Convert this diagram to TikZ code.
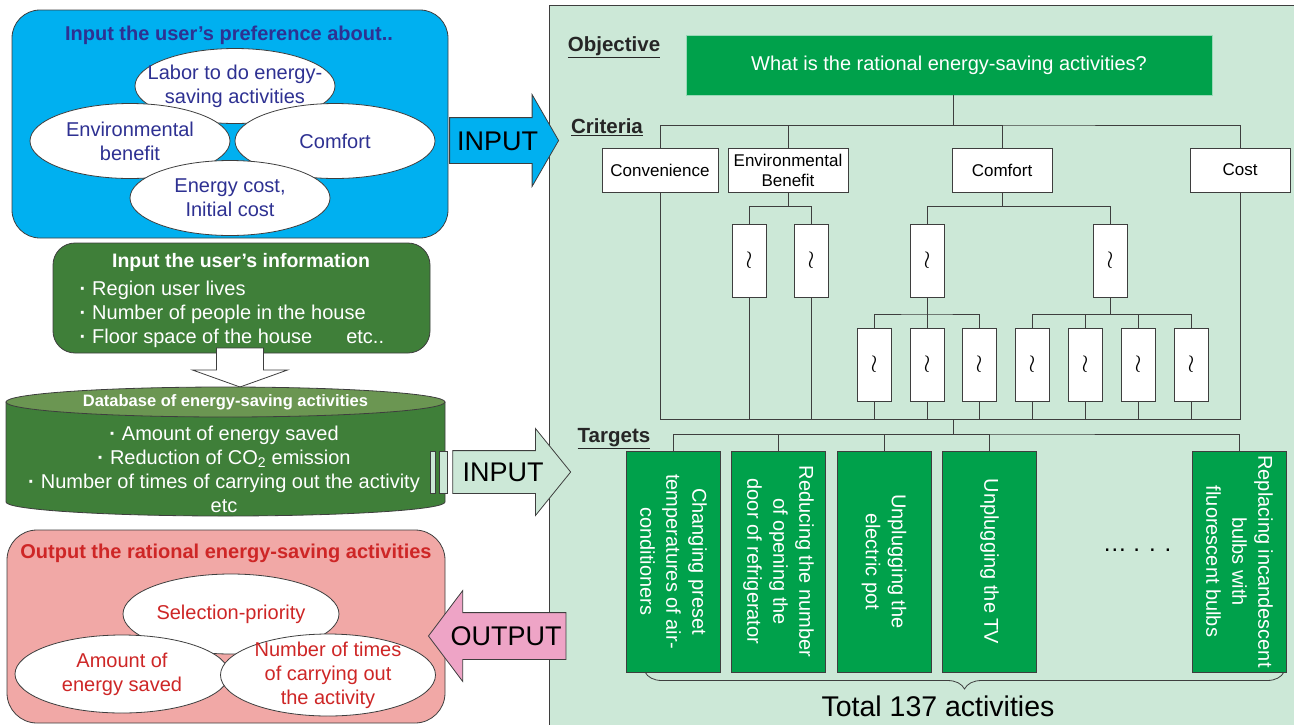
\documentclass[tikz,border=0pt]{standalone}
\usepackage{fontspec}
\setmainfont{Liberation Sans}
\usetikzlibrary{shapes.geometric, shapes.arrows, decorations.pathreplacing}

\definecolor{prefblue}{RGB}{0,176,240}
\definecolor{preftext}{RGB}{46,49,146}
\definecolor{infogreen}{RGB}{63,127,57}
\definecolor{dbtop}{RGB}{107,150,82}
\definecolor{outpink}{RGB}{241,168,166}
\definecolor{outtext}{RGB}{206,38,38}
\definecolor{panelgreen}{RGB}{204,232,215}
\definecolor{ahpgreen}{RGB}{0,161,75}
\definecolor{arrowpink}{RGB}{238,164,198}
\definecolor{edge}{RGB}{62,62,62}

\newcommand{\pxfont}[2]{\fontsize{#1}{#2}\selectfont}

\tikzset{
    prefbox/.style={
        rectangle, rounded corners=28, draw=edge, line width=0.8pt,
        fill=prefblue, minimum width=436, minimum height=228
    },
    infobox/.style={
        rectangle, rounded corners=22, draw=edge, line width=0.8pt,
        fill=infogreen, minimum width=377, minimum height=110
    },
    outbox/.style={
        rectangle, rounded corners=30, draw=edge, line width=0.8pt,
        fill=outpink, minimum width=438, minimum height=193
    },
    oval/.style={
        ellipse, draw=edge, line width=0.8pt, fill=white, inner sep=0,
        minimum width=200, minimum height=75
    },
    ovaltext/.style={align=center, font=\pxfont{20}{24}},
    boxtitle/.style={font=\pxfont{20}{24}\bfseries},
    bigarrow/.style={
        single arrow, draw=edge, line width=0.8pt,
        font=\pxfont{27}{32}, text height=19, text depth=0, inner xsep=4
    },
    hollow/.style={draw=edge, line width=0.8pt, fill=white},
    bar/.style={draw=edge, line width=0.8pt, fill=panelgreen},
    panel/.style={draw=edge, line width=0.8pt, fill=panelgreen},
    section/.style={font=\pxfont{20.5}{24}\bfseries, text=black!85},
    goal/.style={
        rectangle, draw=white!60!ahpgreen, line width=0.8pt, fill=ahpgreen,
        minimum width=526, minimum height=60, text=white, font=\pxfont{20}{24}
    },
    crit/.style={
        rectangle, draw=edge, line width=0.8pt, fill=white,
        minimum height=44, inner sep=2, align=center, font=\pxfont{17}{20}
    },
    sub/.style={
        rectangle, draw=edge, line width=0.8pt, fill=white,
        minimum width=34, minimum height=73, inner sep=0, font=\pxfont{24}{26}
    },
    target/.style={
        rectangle, draw=edge, line width=0.8pt, fill=ahpgreen,
        minimum width=94, minimum height=221, inner sep=0
    },
    targettext/.style={
        rotate=-90, align=center, text=white, font=\pxfont{20}{26}
    },
    link/.style={draw=edge, line width=0.9pt},
    brace/.style={
        draw=edge, line width=0.8pt, decorate,
        decoration={brace, mirror, amplitude=17}
    }
}

\begin{document}
\begin{tikzpicture}[x=1pt, y=-1pt]
\useasboundingbox (0,0) rectangle (1294,724);

% AHP hierarchy panel
\filldraw[panel] (549,5) rectangle (1310,740);

\node[section] (objlbl) at (614,47) {\underline{Objective}};
\node[goal] (obj) at (949,65) {What is the rational energy-saving activities?};

\node[section] (critlbl) at (607,127) {\underline{Criteria}};
\node[crit, minimum width=116] (conv) at (660,170) {Convenience};
\node[crit, minimum width=120] (envb) at (788,170) {Environmental\\Benefit};
\node[crit, minimum width=100] (comf) at (1002,170) {Comfort};
\node[crit, minimum width=100] (cost) at (1240,170) {Cost};

\foreach \name/\x in {e1/749, e2/811, c1/927, c2/1110}
    \node[sub] (\name) at (\x,260.5) {$\wr$};
\foreach \name/\x in {l1/874, l2/927, l3/979, l4/1032, l5/1085, l6/1138, l7/1191}
    \node[sub] (\name) at (\x,364.5) {$\wr$};

\coordinate (critbus) at (953,125);
\coordinate (botbus) at (953,419);
\coordinate (tgtbus) at (953,434);
\coordinate (leftjoin) at (927,314);

\draw[link] (critbus) -- (critbus |- obj.south);
\draw[link] (conv.north) |- (critbus) -| (cost.north);
\draw[link] (envb.north) |- (critbus);
\draw[link] (comf.north) |- (critbus);

\draw[link] (envb.south) -- ++(0,14) coordinate (envjoin);
\draw[link] (e1.north) |- (envjoin) -| (e2.north);
\draw[link] (comf.south) -- ++(0,14) coordinate (comfjoin);
\draw[link] (c1.north) |- (comfjoin) -| (c2.north);

\draw[link] (c1.south) -- (l2.north);
\draw[link] (l1.north) |- (leftjoin) -| (l3.north);
\draw[link] (c2.south) -- ++(0,17) coordinate (rightjoin);
\draw[link] (l4.north) |- (rightjoin) -| (l7.north);
\draw[link] (l5.north) |- (rightjoin);
\draw[link] (l6.north) |- (rightjoin);

\draw[link] (conv.south) |- (botbus) -| (cost.south);
\foreach \name in {e1, e2, l1, l2, l3, l4, l5, l6, l7}
    \draw[link] (\name.south) |- (botbus);
\draw[link] (botbus) -- (tgtbus);

% Targets
\node[section] (tgtlbl) at (614,439) {\underline{Targets}};
\node[target] (t1) at (673.5,561.5) {};
\node[target] (t2) at (778.5,561.5) {};
\node[target] (t3) at (884,561.5) {};
\node[target] (t4) at (989.5,561.5) {};
\node[target] (t5) at (1239.5,561.5) {};
\node[targettext] (t1txt) at (t1) {Changing preset\\temperatures of air-\\conditioners};
\node[targettext] (t2txt) at (t2) {Reducing the number\\of opening the\\door of refrigerator};
\node[targettext] (t3txt) at (t3) {Unplugging the\\electric pot};
\node[targettext] (t4txt) at (t4) {Unplugging the TV};
\node[targettext] (t5txt) at (t5) {Replacing incandescent\\bulbs with\\fluorescent bulbs};
\node[font=\pxfont{24}{28}] (more) at (1137,550) {… . . .};

\draw[link] (t1.north) |- (tgtbus) -| (t5.north);
\foreach \name in {t2, t3, t4}
    \draw[link] (\name.north) |- (tgtbus);

\coordinate (bracel) at (645,672);
\coordinate (bracer) at (1284,672);
\draw[brace] (bracel) -- (bracer);
\node[font=\pxfont{28.5}{32}] (total) at (938,706) {Total 137 activities};

% User preference
\node[prefbox] (pref) at (230,124) {};
\node[boxtitle, text=preftext] (preftitle) at (229,35) {Input the user’s preference about..};
\node[oval, label={[ovaltext, text=preftext]center:Labor to do energy-\\saving activities}] (labor) at (235,86) {};
\node[oval, label={[ovaltext, text=preftext]center:Environmental\\benefit}] (envpref) at (130,141) {};
\node[oval, label={[ovaltext, text=preftext]center:Comfort}] (comfpref) at (335,141) {};
\node[oval, label={[ovaltext, text=preftext]center:Energy cost,\\Initial cost}] (costpref) at (230,198) {};

% User information
\node[infobox] (info) at (241.5,298) {};
\node[boxtitle, font=\pxfont{19.5}{24}\bfseries, text=white] (infotitle) at (241,262) {Input the user’s information};
\node[anchor=west, align=left, text=white, font=\pxfont{20}{24}] (infoitems) at (76,314)
    {\textbf{·}\hspace{6pt}Region user lives\\
     \textbf{·}\hspace{6pt}Number of people in the house\\
     \textbf{·}\hspace{6pt}Floor space of the house\hspace{34pt}etc..};
\filldraw[hollow] (216.5,348) -- (263.5,348) -- (263.5,370) -- (287.5,370)
    -- (240,387) -- (192.5,370) -- (216.5,370) -- cycle;

% Database
\filldraw[draw=edge, line width=0.8pt, fill=infogreen] (6,402) -- (6,502)
    arc[start angle=180, end angle=0, x radius=219.5, y radius=14] -- (445,402) -- cycle;
\filldraw[draw=edge, line width=0.8pt, fill=dbtop] (225.5,402) ellipse[x radius=219.5, y radius=15];
\node[text=white, font=\pxfont{16.5}{20}\bfseries] (dbtitle) at (225.5,402) {Database of energy-saving activities};
\node[align=center, text=white, font=\pxfont{20}{24}] (dbitems) at (224,469)
    {\textbf{·}\hspace{6pt}Amount of energy saved\\
     \textbf{·}\hspace{6pt}Reduction of CO\textsubscript{2} emission\\
     \textbf{·}\hspace{6pt}Number of times of carrying out the activity\\
     etc};
\filldraw[bar] (430,451) rectangle (435,493);
\filldraw[bar] (439,451) rectangle (447,493);

% Output
\node[outbox] (out) at (226,626.5) {};
\node[boxtitle, text=outtext] (outtitle) at (226,553) {Output the rational energy-saving activities};
\node[oval, minimum width=216, minimum height=80, label={[ovaltext, text=outtext]center:Selection-priority}] (prio) at (231,614) {};
\node[oval, minimum width=214, minimum height=78, label={[ovaltext, text=outtext]center:Amount of\\energy saved}] (amount) at (122,674) {};
\node[oval, minimum width=215, minimum height=82, label={[ovaltext, text=outtext]center:Number of times\\of carrying out\\the activity}] (times) at (328,675) {};

% Block arrows
\node[bigarrow, fill=prefblue, minimum height=109, inner ysep=13,
      single arrow head extend=23, single arrow tip angle=120] (in1) at (497.5,140.5) {INPUT};
\node[bigarrow, fill=panelgreen, minimum height=118, inner ysep=11.5,
      single arrow head extend=22, single arrow tip angle=102] (in2) at (503,472) {INPUT};
\node[bigarrow, fill=arrowpink, shape border rotate=180, minimum height=134, inner ysep=13.5,
      single arrow head extend=22, single arrow tip angle=106] (outarrow) at (506,636) {OUTPUT};

\end{tikzpicture}
\end{document}
